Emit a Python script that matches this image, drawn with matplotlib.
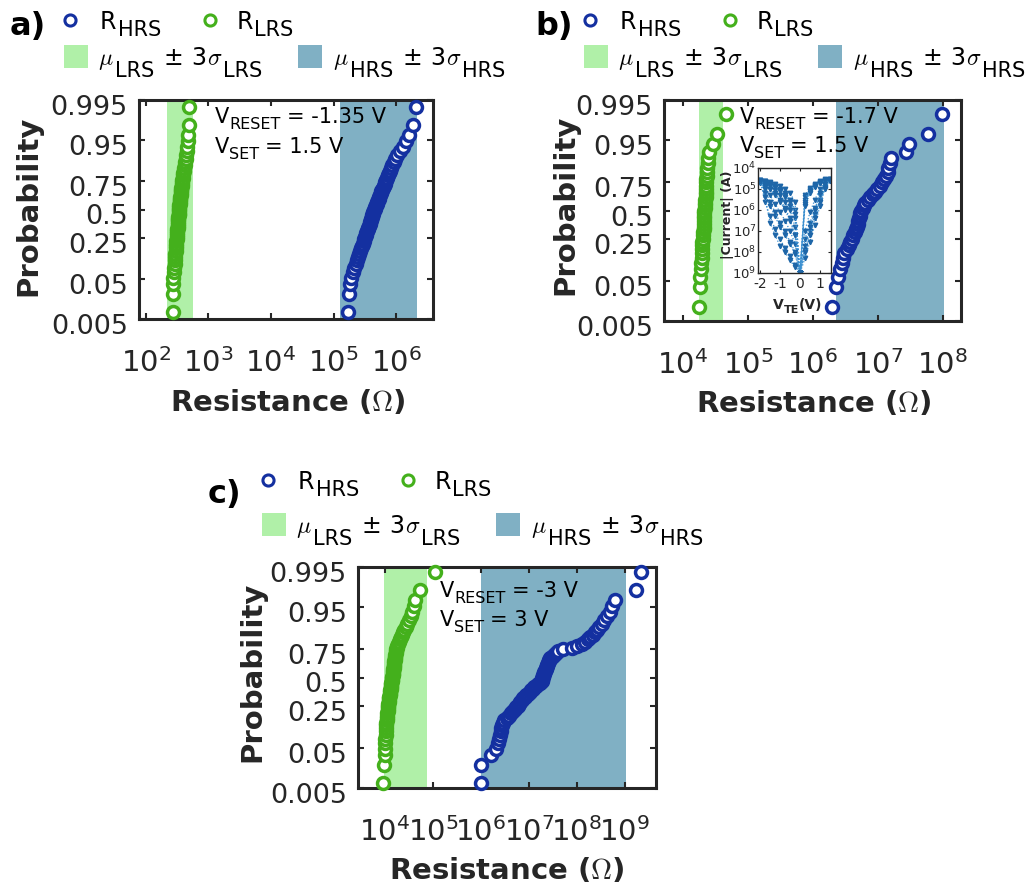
import numpy as np
import matplotlib
matplotlib.use("Agg")
import matplotlib.pyplot as plt
from matplotlib.patches import Rectangle
from matplotlib.transforms import ScaledTranslation
from statistics import NormalDist

plt.rcParams['font.family'] = ['DejaVu Sans']
plt.rcParams['mathtext.fontset'] = 'cm'
plt.rcParams['axes.unicode_minus'] = False

# ---------------- data (log10 of resistance, sorted) ----------------
lrs_a = [2.430, 2.435, 2.438, 2.440, 2.448, 2.454, 2.460, 2.465, 2.469, 2.473,
         2.477, 2.480, 2.483, 2.486, 2.489, 2.492, 2.495, 2.497, 2.500, 2.502,
         2.505, 2.507, 2.509, 2.512, 2.514, 2.516, 2.518, 2.520, 2.523, 2.525,
         2.527, 2.529, 2.531, 2.534, 2.537, 2.540, 2.543, 2.546, 2.549, 2.552,
         2.555, 2.558, 2.561, 2.564, 2.567, 2.570, 2.574, 2.577, 2.581, 2.587,
         2.592, 2.598, 2.605, 2.611, 2.619, 2.626, 2.635, 2.643, 2.651, 2.660,
         2.671, 2.681, 2.684, 2.690]
hrs_a = [5.230, 5.254, 5.268, 5.284, 5.312, 5.334, 5.356, 5.376, 5.394, 5.411,
         5.427, 5.441, 5.455, 5.469, 5.482, 5.494, 5.505, 5.516, 5.526, 5.536,
         5.546, 5.556, 5.565, 5.575, 5.584, 5.593, 5.602, 5.611, 5.620, 5.628,
         5.637, 5.646, 5.655, 5.666, 5.677, 5.688, 5.699, 5.710, 5.721, 5.732,
         5.743, 5.755, 5.766, 5.778, 5.790, 5.803, 5.816, 5.828, 5.842, 5.857,
         5.872, 5.888, 5.905, 5.923, 5.942, 5.964, 5.988, 6.020, 6.061, 6.109,
         6.153, 6.209, 6.264, 6.320]
lrs_b = [4.25, 4.27, 4.27, 4.28, 4.28, 4.29, 4.29, 4.30, 4.30, 4.30,
         4.31, 4.31, 4.31, 4.32, 4.32, 4.32, 4.32, 4.33, 4.33, 4.33,
         4.33, 4.34, 4.34, 4.34, 4.34, 4.35, 4.35, 4.35, 4.35, 4.36,
         4.36, 4.36, 4.37, 4.37, 4.37, 4.38, 4.38, 4.40, 4.47, 4.52, 4.66]
hrs_b = [6.29, 6.35, 6.38, 6.42, 6.45, 6.47, 6.48, 6.53, 6.55, 6.57,
         6.60, 6.62, 6.65, 6.66, 6.68, 6.70, 6.70, 6.71, 6.72, 6.73,
         6.74, 6.77, 6.79, 6.81, 6.85, 6.88, 6.93, 6.96, 6.99, 7.03,
         7.07, 7.10, 7.13, 7.15, 7.16, 7.18, 7.21, 7.44, 7.48, 7.77, 7.98]
lrs_c = [3.96, 3.98, 4.00, 4.005, 4.009, 4.012, 4.015, 4.018, 4.02, 4.027,
         4.033, 4.038, 4.043, 4.048, 4.052, 4.056, 4.061, 4.065, 4.069, 4.074,
         4.079, 4.084, 4.089, 4.094, 4.099, 4.104, 4.108, 4.113, 4.118, 4.122,
         4.127, 4.131, 4.136, 4.14, 4.145, 4.149, 4.154, 4.159, 4.163, 4.168,
         4.172, 4.177, 4.181, 4.186, 4.19, 4.195, 4.20, 4.205, 4.209, 4.214,
         4.219, 4.225, 4.23, 4.235, 4.243, 4.259, 4.276, 4.294, 4.313, 4.332,
         4.352, 4.373, 4.403, 4.431, 4.468, 4.505, 4.546, 4.574, 4.60, 4.634,
         4.73, 5.04]
hrs_c = [6.00, 6.01, 6.22, 6.32, 6.357, 6.38, 6.40, 6.415, 6.43, 6.44,
         6.456, 6.49, 6.54, 6.59, 6.636, 6.678, 6.709, 6.74, 6.77, 6.80,
         6.826, 6.854, 6.88, 6.915, 6.948, 6.981, 7.014, 7.046, 7.078, 7.115,
         7.155, 7.195, 7.235, 7.264, 7.274, 7.284, 7.294, 7.304, 7.315, 7.325,
         7.336, 7.349, 7.361, 7.374, 7.387, 7.40, 7.413, 7.427, 7.44, 7.483,
         7.526, 7.572, 7.617, 7.715, 7.89, 7.995, 8.102, 8.17, 8.225, 8.284,
         8.343, 8.38, 8.428, 8.469, 8.523, 8.574, 8.63, 8.69, 8.736, 8.80,
         9.23, 9.33]

# mu +/- 3 sigma bands (log10 ohm)
band_lrs_a = [2.33, 2.76]
band_hrs_a = [5.10, 6.33]
band_lrs_b = [4.25, 4.62]
band_hrs_b = [6.35, 8.02]
band_lrs_c = [3.98, 4.88]
band_hrs_c = [6.00, 9.02]

xlim_a = [1.89, 6.59]
xlim_b = [3.71, 8.28]
xlim_c = [3.44, 9.65]
xticks_a = [2, 3, 4, 5, 6]
xticks_b = [4, 5, 6, 7, 8]
xticks_c = [4, 5, 6, 7, 8, 9]

prob_ticks = [0.005, 0.05, 0.25, 0.5, 0.75, 0.95, 0.995]
prob_labels = ['0.005', '0.05', '0.25', '0.5', '0.75', '0.95', '0.995']

v_reset = ['-1.35', '-1.7', '-3']
v_set = ['1.5', '1.5', '3']

# inset I-V data (log10 |I| in A)
v_sweep = [0, -0.25, -0.5, -0.75, -1.0, -1.25, -1.5, -1.75, -2.0, -1.75, -1.5,
           -1.25, -1.0, -0.75, -0.5, -0.25, 0, 0.25, 0.5, 0.75, 1.0, 1.25, 1.5,
           1.25, 1.0, 0.75, 0.5, 0.25, 0]
logi_c1 = [-9.0, -6.4, -5.8, -5.4, -5.1, -4.9, -4.75, -4.65, -4.6, -4.9, -5.3,
           -5.7, -6.1, -6.5, -7.0, -7.6, -9.0, -7.4, -6.6, -5.9, -5.3, -4.8, -4.55,
           -4.6, -4.7, -4.85, -5.1, -5.6, -9.0]
logi_c2 = [-9.0, -6.0, -5.5, -5.2, -5.0, -4.85, -4.7, -4.6, -4.55, -5.2, -5.8,
           -6.3, -6.8, -7.2, -7.6, -8.1, -9.0, -7.9, -7.0, -6.2, -5.5, -4.9, -4.5,
           -4.55, -4.65, -4.8, -5.0, -5.4, -9.0]
logi_c3 = [-9.0, -6.8, -6.0, -5.6, -5.3, -5.05, -4.85, -4.7, -4.65, -4.8, -5.0,
           -5.2, -5.5, -5.9, -6.4, -7.2, -9.0, -7.0, -6.1, -5.5, -5.0, -4.7, -4.6,
           -4.62, -4.7, -4.9, -5.2, -5.8, -9.0]
logi_c4 = [-9.0, -5.6, -5.2, -5.0, -4.85, -4.75, -4.65, -4.6, -4.55, -5.6, -6.3,
           -6.9, -7.4, -7.8, -8.2, -8.6, -9.0, -8.3, -7.5, -6.7, -5.8, -5.0, -4.5,
           -4.52, -4.6, -4.75, -4.95, -5.3, -9.0]
logi_c5 = [-9.0, -7.2, -6.5, -6.0, -5.6, -5.3, -5.0, -4.8, -4.7, -5.0, -5.6,
           -6.1, -6.6, -7.0, -7.5, -8.0, -9.0, -7.7, -6.8, -6.0, -5.2, -4.75, -4.55,
           -4.58, -4.68, -4.82, -5.05, -5.5, -9.0]
logi_c6 = [-9.0, -6.2, -5.6, -5.3, -5.05, -4.9, -4.8, -4.7, -4.62, -5.4, -6.6,
           -7.2, -7.7, -8.0, -8.4, -8.7, -9.0, -8.0, -7.2, -6.4, -5.6, -4.95, -4.6,
           -4.62, -4.7, -4.85, -5.1, -5.7, -9.0]

# ---------------- styles ----------------
W, H = 1029, 894
C_HRS = '#1430a0'
C_LRS = '#44b01c'
C_BAND_LRS = '#b0f0a8'
C_BAND_HRS = '#80b0c4'
TXT = '#262626'

fig = plt.figure(figsize=(W / 100, H / 100), dpi=100)
nd = NormalDist()


def px_axes(x0, y0, x1, y1):
    return [x0 / W, 1 - y1 / H, (x1 - x0) / W, (y1 - y0) / H]


def prob_panel(rect, lrs, hrs, blrs, bhrs, xl, xt):
    ax = fig.add_axes(px_axes(*rect))
    ax.set_xscale('log')
    ax.axvspan(10 ** blrs[0], 10 ** blrs[1], color=C_BAND_LRS, lw=0, zorder=0)
    ax.axvspan(10 ** bhrs[0], 10 ** bhrs[1], color=C_BAND_HRS, lw=0, zorder=0)
    for vals, col in ((lrs, C_LRS), (hrs, C_HRS)):
        n = len(vals)
        z = [nd.inv_cdf((i + 0.5) / n) for i in range(n)]
        ax.plot(10 ** np.array(vals), z, 'o', ls='none', mfc='white', mec=col,
                ms=8.6, mew=2.5, zorder=3, clip_on=False)
    ax.set_xlim(10 ** xl[0], 10 ** xl[1])
    ax.set_ylim(nd.inv_cdf(0.005), nd.inv_cdf(0.995))
    ax.set_yticks([nd.inv_cdf(p) for p in prob_ticks])
    ax.set_yticklabels(prob_labels, fontsize=19.5, color=TXT)
    ax.set_xticks([10.0 ** k for k in xt])
    ax.set_xticklabels([r'$\mathdefault{10^{%d}}$' % k for k in xt],
                       fontsize=21, color=TXT)
    ax.xaxis.set_minor_locator(matplotlib.ticker.NullLocator())
    ax.tick_params(axis='both', direction='in', length=4, width=1.5,
                   color=TXT, top=True, right=True)
    ax.tick_params(axis='x', pad=21)
    ax.tick_params(axis='y', pad=8)
    for s in ax.spines.values():
        s.set_linewidth(2.2)
        s.set_color(TXT)
    for lab in ax.get_yticklabels():
        lab.set_transform(lab.get_transform() +
                          ScaledTranslation(0, -0.05, fig.dpi_scale_trans))
    return ax


ax_a = prob_panel((139, 100, 433, 319), lrs_a, hrs_a, band_lrs_a, band_hrs_a,
                  xlim_a, xticks_a)
ax_b = prob_panel((664, 100, 961, 321), lrs_b, hrs_b, band_lrs_b, band_hrs_b,
                  xlim_b, xticks_b)
ax_c = prob_panel((358, 567, 656, 788), lrs_c, hrs_c, band_lrs_c, band_hrs_c,
                  xlim_c, xticks_c)

# ---------------- inset ----------------
axi = fig.add_axes(px_axes(758, 168, 831, 273), zorder=5)
axi.set_facecolor('white')
axi.set_yscale('log')
for cyc in (logi_c1, logi_c2, logi_c3, logi_c4, logi_c5, logi_c6):
    axi.plot(v_sweep, 10 ** np.array(cyc), ls=':', lw=0.9, color='#3a8fd0',
             marker='v', ms=3.2, mfc='#1e66a8', mec='#1e66a8')
axi.set_xlim(-2.1, 1.55)
axi.set_ylim(1e-9, 1e-4)
axi.set_xticks([-2, -1, 0, 1])
axi.set_xticklabels(['-2', '-1', '0', '1'], fontsize=10, color=TXT)
axi.set_yticks([10.0 ** (-k) for k in range(4, 10)])
axi.set_yticklabels([r'$\mathdefault{10^{%d}}$' % k for k in range(4, 10)],
                    fontsize=9.5, color=TXT)
axi.yaxis.set_minor_locator(matplotlib.ticker.NullLocator())
axi.tick_params(axis='both', direction='in', length=2, width=0.8, pad=1,
                color=TXT, top=True, right=True)
axi.tick_params(axis='x', pad=3)
for s in axi.spines.values():
    s.set_linewidth(1.0)
    s.set_color(TXT)

# ---------------- overlay for text & legends ----------------
ov = fig.add_axes([0, 0, 1, 1], zorder=10)
ov.set_xlim(0, W)
ov.set_ylim(H, 0)
ov.axis('off')
ov.patch.set_alpha(0)
renderer = fig.canvas.get_renderer()


def rich(x, y, parts, color='black', weight='normal'):
    for s, size, dy, gap in parts:
        t = ov.text(x, y + dy, s, fontsize=size, va='baseline', ha='left',
                    color=color, fontweight=weight)
        x += t.get_window_extent(renderer=renderer).width + gap


def legend_block(dx, dy1, dy2, label, lx, ly):
    ov.text(lx, ly, label, fontsize=23, fontweight='bold', va='baseline',
            ha='left', color='black')
    ov.plot(70 + dx, 20 + dy1, 'o', ms=8, mfc='white', mec=C_HRS, mew=2.2)
    rich(100 + dx, 29 + dy1, [('R', 17, 0, 1), ('HRS', 15, 7, 0)])
    ov.plot(210 + dx, 20 + dy1, 'o', ms=8, mfc='white', mec=C_LRS, mew=2.2)
    rich(237 + dx, 29 + dy1, [('R', 17, 0, 1), ('LRS', 15, 7, 0)])
    ov.add_patch(Rectangle((64 + dx, 45 + dy2), 24, 23, color=C_BAND_LRS, lw=0))
    rich(98 + dx, 65 + dy2, [(r'$\mu$', 17, 0, 1), ('LRS', 15, 12, 10),
                             ('±', 17, 0, 8), ('3', 17, 0, 0),
                             (r'$\sigma$', 17, 0, 1), ('LRS', 15, 12, 0)])
    ov.add_patch(Rectangle((298 + dx, 45 + dy2), 24, 23, color=C_BAND_HRS, lw=0))
    rich(333 + dx, 65 + dy2, [(r'$\mu$', 17, 0, 1), ('HRS', 15, 12, 10),
                              ('±', 17, 0, 8), ('3', 17, 0, 0),
                              (r'$\sigma$', 17, 0, 1), ('HRS', 15, 12, 0)])


legend_block(0, 0, 0, 'a)', 10, 35)
legend_block(520, 0, 0, 'b)', 535, 35)
legend_block(198, 460, 468, 'c)', 208, 503)

# voltage annotations
for (x, y1, y2), vr, vs in zip([(215, 123, 153), (740, 123, 152), (440, 597, 626)],
                               v_reset, v_set):
    rich(x, y1, [('V', 15, 0, 0), ('RESET', 11.5, 6, 6), ('= %s V' % vr, 15, 0, 0)])
    rich(x, y2, [('V', 15, 0, 0), ('SET', 11.5, 6, 6), ('= %s V' % vs, 15, 0, 0)])

# axis labels
for x, y in [(28, 206), (565, 205), (252, 672)]:
    ov.text(x, y, 'Probability', rotation=90, fontsize=21, fontweight='bold',
            ha='center', va='center', color=TXT)
for x, y in [(288, 411), (814, 412), (507, 879)]:
    ov.text(x, y, r'Resistance ($\Omega$)', fontsize=21, fontweight='bold',
            ha='center', va='baseline', color=TXT)

# inset labels
rich(773, 309, [('V', 10, 0, 0), ('TE', 8, 4, 0), ('(V)', 10, 0, 0)],
     color=TXT, weight='bold')
ov.text(727, 215, '|Current| (A)', rotation=90, fontsize=9, fontweight='bold',
        ha='center', va='center', color=TXT)

fig.savefig('out.png', dpi=100)
